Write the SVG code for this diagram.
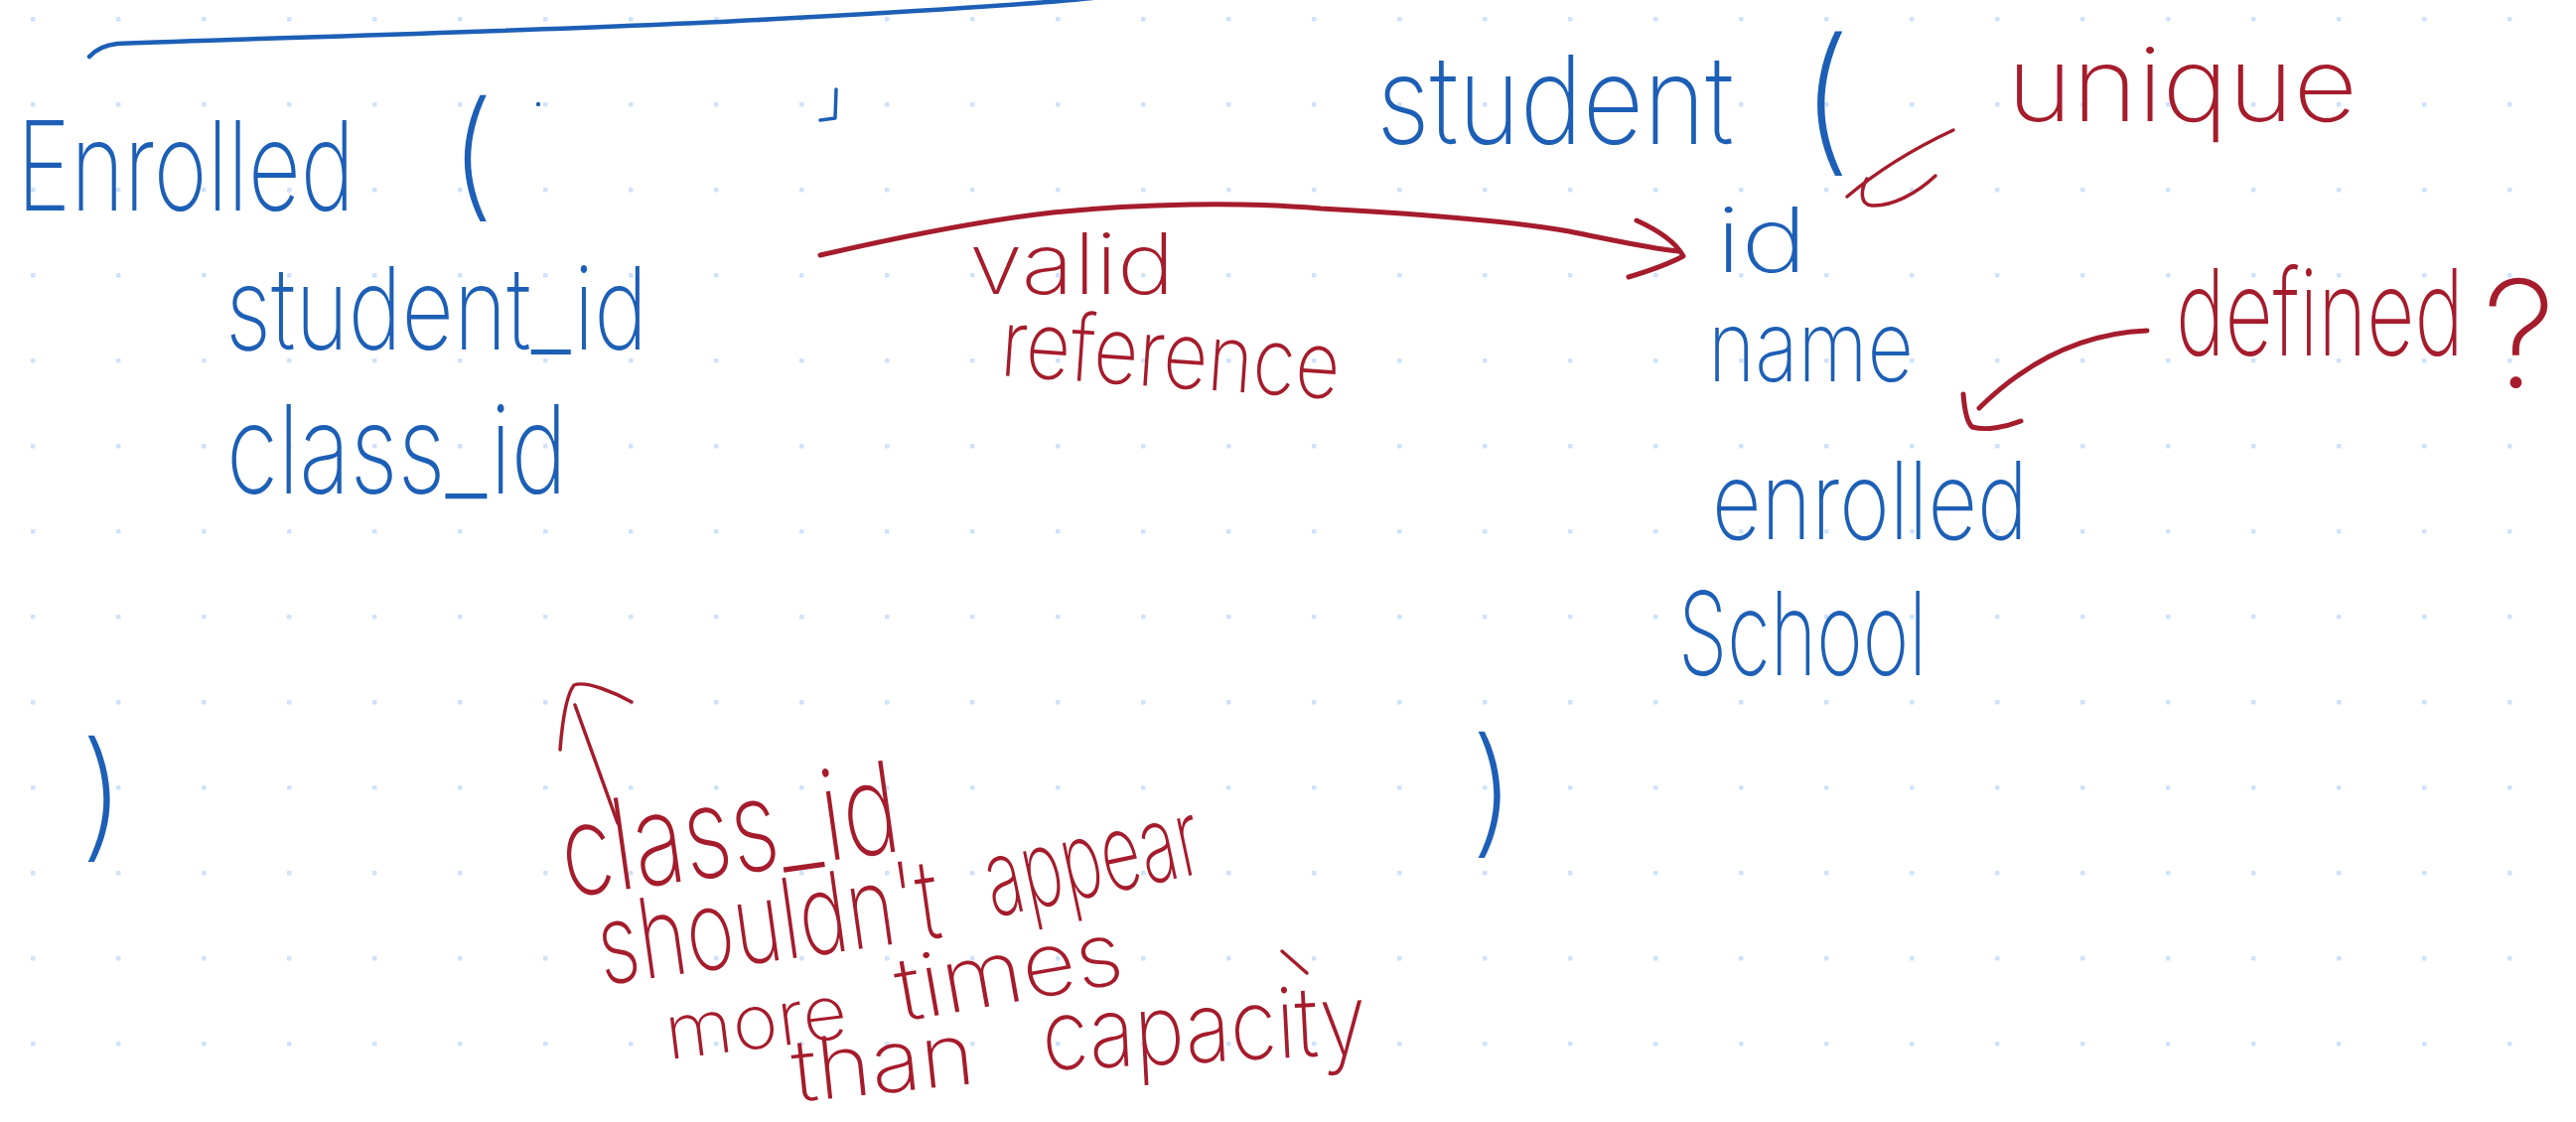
<svg xmlns="http://www.w3.org/2000/svg" width="2594" height="1130" viewBox="0 0 2594 1130">
  <defs>
    <pattern id="dotgrid" x="0" y="0" width="86" height="86" patternUnits="userSpaceOnUse">
      <rect x="31" y="17" width="4.5" height="4.5" rx="1" fill="#cfe2fb"/>
    </pattern>
    <style>
      text { font-family: Inter, "Liberation Sans", "DejaVu Sans", sans-serif; font-weight: 200; }
      .b { fill: #1d5fb6; }
      .r { fill: #a51c2c; }
      .ink-b { fill: none; stroke: #1d5fb6; stroke-width: 4.5; stroke-linecap: round; stroke-linejoin: round; }
      .ink-r { fill: none; stroke: #a51c2c; stroke-width: 5; stroke-linecap: round; stroke-linejoin: round; }
      .thin { stroke-width: 3.5; }
    </style>
  </defs>

  <!-- paper -->
  <rect width="2594" height="1130" fill="#ffffff"/>
  <rect width="2594" height="1130" fill="url(#dotgrid)"/>

  <!-- Enrolled table -->
  <g id="enrolled">
    <text class="b" transform="translate(17 212) scale(1 1.4)" font-size="89" textLength="340" lengthAdjust="spacingAndGlyphs">Enrolled</text>
    <text class="b" x="452" y="204" font-size="140">(</text>
    <text class="b" transform="translate(227 352) scale(1 1.35)" font-size="86" textLength="425" lengthAdjust="spacingAndGlyphs">student_id</text>
    <text class="b" transform="translate(228 497) scale(1 1.35)" font-size="92" textLength="343" lengthAdjust="spacingAndGlyphs">class_id</text>
    <text class="b" x="80" y="849" font-size="140">)</text>
  </g>

  <!-- Student table -->
  <g id="student">
    <text class="b" transform="translate(1386 145) scale(1 1.25)" font-size="99" textLength="360" lengthAdjust="spacingAndGlyphs">student</text>
    <text class="b" x="1812" y="155" font-size="160">(</text>
    <text class="b" transform="translate(1728 274) scale(1 1.1)" font-size="82" textLength="92" lengthAdjust="spacingAndGlyphs">id</text>
    <text class="b" transform="translate(1720 384) scale(1 1.25)" font-size="79" textLength="207" lengthAdjust="spacingAndGlyphs">name</text>
    <text class="b" transform="translate(1724 543) scale(1 1.3)" font-size="83" textLength="318" lengthAdjust="spacingAndGlyphs">enrolled</text>
    <text class="b" transform="translate(1690 680) scale(1 1.5)" font-size="78" textLength="250" lengthAdjust="spacingAndGlyphs">School</text>
    <text class="b" x="1480" y="845" font-size="140">)</text>
  </g>

  <!-- top rule and stray pen marks -->
  <g id="marks">
    <path class="ink-b" d="M90,57 Q100,46 118,44 C300,37 600,30 800,18 C950,10 1050,3 1100,-2"/>
    <path class="ink-b thin" d="M842,90 L841,119 L826,121"/>
    <circle cx="542" cy="105" r="2.2" fill="#1d5fb6"/>
  </g>

  <!-- notes -->
  <g id="note-valid-reference">
    <text class="r" transform="translate(976 296) scale(1 0.95)" font-size="90" textLength="207" lengthAdjust="spacingAndGlyphs">valid</text>
    <text class="r" transform="translate(1006 378) rotate(4) scale(1 1.25)" font-size="75" textLength="342" lengthAdjust="spacingAndGlyphs">reference</text>
  </g>
  <g id="note-unique">
    <text class="r" transform="translate(2021 122) scale(1 0.95)" font-size="109" textLength="353" lengthAdjust="spacingAndGlyphs">unique</text>
  </g>
  <g id="note-defined">
    <text class="r" transform="translate(2191 358) scale(1 1.5)" font-size="81" textLength="290" lengthAdjust="spacingAndGlyphs">defined</text>
    <text class="r" x="2500" y="390" font-size="150">?</text>
  </g>
  <g id="note-capacity">
    <text class="r" transform="translate(571 904) rotate(-8) scale(1 1.4)" font-size="91" textLength="342" lengthAdjust="spacingAndGlyphs">class_id</text>
    <text class="r" transform="translate(607 992) rotate(-8) scale(1 1.4)" font-size="80" textLength="347" lengthAdjust="spacingAndGlyphs">shouldn't</text>
    <text class="r" transform="translate(1000 924) rotate(-12) scale(1 1.6)" font-size="67" textLength="219" lengthAdjust="spacingAndGlyphs">appear</text>
    <text class="r" transform="translate(673 1067) rotate(-7)" font-size="76" textLength="184" lengthAdjust="spacingAndGlyphs">more</text>
    <text class="r" transform="translate(908 1029) rotate(-10)" font-size="89" textLength="230" lengthAdjust="spacingAndGlyphs">times</text>
    <text class="r" transform="translate(801 1110) rotate(-6)" font-size="87" textLength="184" lengthAdjust="spacingAndGlyphs">than</text>
    <text class="r" transform="translate(1051 1078) rotate(-3) scale(1 1.2)" font-size="82" textLength="327" lengthAdjust="spacingAndGlyphs">capacity</text>
    <path class="ink-r thin" d="M1291,958 L1316,980"/>
  </g>

  <!-- connectors -->
  <g id="connectors">
    <!-- student_id to id -->
    <path class="ink-r" d="M826,257 C900,240 990,222 1060,214 C1150,205 1250,203 1330,210 C1420,215 1520,222 1580,233 C1630,243 1660,250 1690,253"/>
    <path class="ink-r" d="M1648,222 C1670,232 1688,245 1695,258 C1680,266 1660,273 1640,279"/>
    <!-- unique to student( -->
    <path class="ink-r thin" d="M1967,131 Q1905,160 1860,198"/>
    <path class="ink-r thin" d="M1949,177 C1930,195 1905,208 1885,207 C1872,206 1874,190 1880,180"/>
    <!-- defined? to name -->
    <path class="ink-r" d="M2162,333 C2110,335 2050,355 1993,411"/>
    <path class="ink-r" d="M1977,397 C1978,410 1980,425 1986,430 C2000,434 2020,430 2035,424"/>
    <!-- class_id note pointing up -->
    <path class="ink-r thin" d="M622,829 L579,710"/>
    <path class="ink-r thin" d="M564,755 C566,730 570,700 578,690 C590,685 620,698 636,707"/>
  </g>
</svg>
